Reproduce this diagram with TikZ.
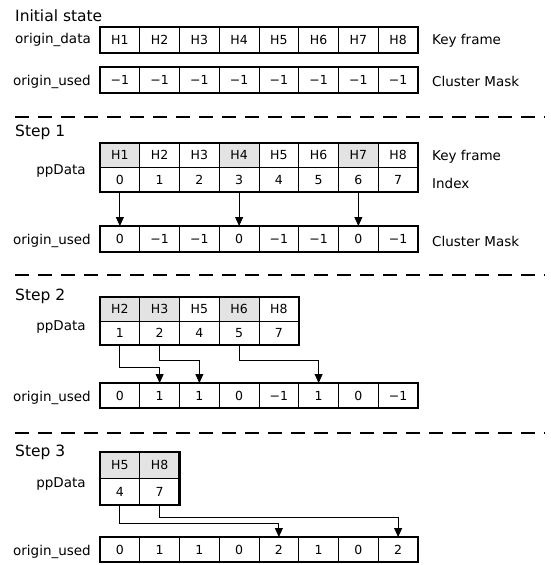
\documentclass[tikz,border=0pt]{standalone}
\usepackage{fontspec}
\setmainfont{DejaVu Sans}
\usetikzlibrary{arrows.meta,fit}
\begin{document}
\begin{tikzpicture}[x=1pt,y=-1pt,
  cell/.style={draw, line width=0.7pt, minimum width=39.75pt, minimum height=26pt,
    inner sep=0pt, outer sep=0pt, anchor=north west, font=\fontsize{12.5}{14}\selectfont},
  shd/.style={fill=black!11},
  plain/.style={},
  frame/.style={draw, line width=2.2pt, inner sep=0pt, outer sep=0pt},
  lbl/.style={inner sep=0pt, font=\fontsize{13.5}{16}\selectfont},
  ttl/.style={inner sep=0pt, anchor=base west, font=\fontsize{15.5}{18}\selectfont},
  sep/.style={line width=2.8pt, dash pattern=on 14pt off 9pt},
  arr/.style={line width=0.8pt, -{Triangle[length=9pt,width=8pt]}}
]
\useasboundingbox (0,0) rectangle (550,565);

% ---------- Initial state
\node[ttl] (t0) at (15,21) {Initial state};
\foreach \v [count=\i from 0] in {H1,H2,H3,H4,H5,H6,H7,H8}
  \node[cell] (od\i) at ({100+\i*39.75},27) {\v};
\node[frame, fit=(od0)(od7)] (odf) {};
\node[lbl, anchor=east] (odl) at ([xshift=-9pt]od0.west) {origin\_data};
\node[lbl, anchor=west] (kf0) at ([xshift=14pt,yshift=-1pt]od7.east) {Key frame};

\foreach \v [count=\i from 0] in {−1,−1,−1,−1,−1,−1,−1,−1}
  \node[cell] (ua\i) at ({100+\i*39.75},67) {\v};
\node[frame, fit=(ua0)(ua7)] (uaf) {};
\node[lbl, anchor=east] (ual) at ([xshift=-9pt,yshift=-2pt]ua0.west) {origin\_used};
\node[lbl, anchor=west] (cm0) at ([xshift=14pt,yshift=-1pt]ua7.east) {Cluster Mask};

\coordinate (d1a) at (15,117); \coordinate (d1b) at (545,117);
\draw[sep] (d1a) -- (d1b);

% ---------- Step 1
\node[ttl] (t1) at (15,136) {Step 1};
\foreach \v/\s [count=\i from 0] in {H1/shd,H2/plain,H3/plain,H4/shd,H5/plain,H6/plain,H7/shd,H8/plain}
  \node[cell, \s, minimum height=24.5pt] (ak\i) at ({100+\i*39.75},143) {\v};
\foreach \v [count=\i from 0] in {0,1,2,3,4,5,6,7}
  \node[cell, minimum height=24.5pt] (ai\i) at ({100+\i*39.75},167.5) {\v};
\node[frame, fit=(ak0)(ai7)] (af) {};
\node[lbl] (apl) at (61,171) {ppData};
\node[lbl, anchor=west] (kf1) at ([xshift=14pt,yshift=-2pt]ak7.east) {Key frame};
\node[lbl, anchor=west] (ix1) at ([xshift=14pt,yshift=-4pt]ai7.east) {Index};

\foreach \v [count=\i from 0] in {0,−1,−1,0,−1,−1,0,−1}
  \node[cell] (ub\i) at ({100+\i*39.75},226) {\v};
\node[frame, fit=(ub0)(ub7)] (ubf) {};
\node[lbl, anchor=east] (ubl) at ([xshift=-9pt,yshift=-2pt]ub0.west) {origin\_used};
\node[lbl, anchor=west] (cm1) at ([xshift=14pt,yshift=-2pt]ub7.east) {Cluster Mask};

\draw[arr] (ai0.south) -- (ub0.north);
\draw[arr] (ai3.south) -- (ub3.north);
\draw[arr] (ai6.south) -- (ub6.north);

\coordinate (d2a) at (15,275); \coordinate (d2b) at (545,275);
\draw[sep] (d2a) -- (d2b);

% ---------- Step 2
\node[ttl] (t2) at (15,300) {Step 2};
\foreach \v/\s [count=\i from 0] in {H2/shd,H3/shd,H5/plain,H6/shd,H8/plain}
  \node[cell, \s, minimum height=24pt] (bk\i) at ({100+\i*39.75},297) {\v};
\foreach \v [count=\i from 0] in {1,2,4,5,7}
  \node[cell, minimum height=24pt] (bi\i) at ({100+\i*39.75},321) {\v};
\node[frame, fit=(bk0)(bi4)] (bf) {};
\node[lbl] (bpl) at (61,327) {ppData};

\foreach \v [count=\i from 0] in {0,1,1,0,−1,1,0,−1}
  \node[cell, minimum height=25pt] (uc\i) at ({100+\i*39.75},383) {\v};
\node[frame, fit=(uc0)(uc7)] (ucf) {};
\node[lbl, anchor=east] (ucl) at ([xshift=-9pt,yshift=-2pt]uc0.west) {origin\_used};

\draw[arr] (bi0.south) -- ++(0,22) -| (uc1.north);
\draw[arr] (bi1.south) -- ++(0,15) -| (uc2.north);
\draw[arr] (bi3.south) -- ++(0,15) -| (uc5.north);

\coordinate (d3a) at (15,433); \coordinate (d3b) at (545,433);
\draw[sep] (d3a) -- (d3b);

% ---------- Step 3
\node[ttl] (t3) at (15,456) {Step 3};
\foreach \v [count=\i from 0] in {H5,H8}
  \node[cell, shd, minimum height=26.5pt] (ck\i) at ({100+\i*39.75},452) {\v};
\foreach \v [count=\i from 0] in {4,7}
  \node[cell, minimum height=26.5pt] (ci\i) at ({100+\i*39.75},478.5) {\v};
\node[frame, fit=(ck0)(ci1)] (cf) {};
\node[lbl] (cpl) at (61,484) {ppData};

\foreach \v [count=\i from 0] in {0,1,1,0,2,1,0,2}
  \node[cell, minimum height=25pt] (ud\i) at ({100+\i*39.75},537) {\v};
\node[frame, fit=(ud0)(ud7)] (udf) {};
\node[lbl, anchor=east] (udl) at ([xshift=-9pt,yshift=-2pt]ud0.west) {origin\_used};

\draw[arr] (ci0.south) -- ++(0,18) -| (ud4.north);
\draw[arr] (ci1.south) -- ++(0,12) -| (ud7.north);
\end{tikzpicture}
\end{document}
